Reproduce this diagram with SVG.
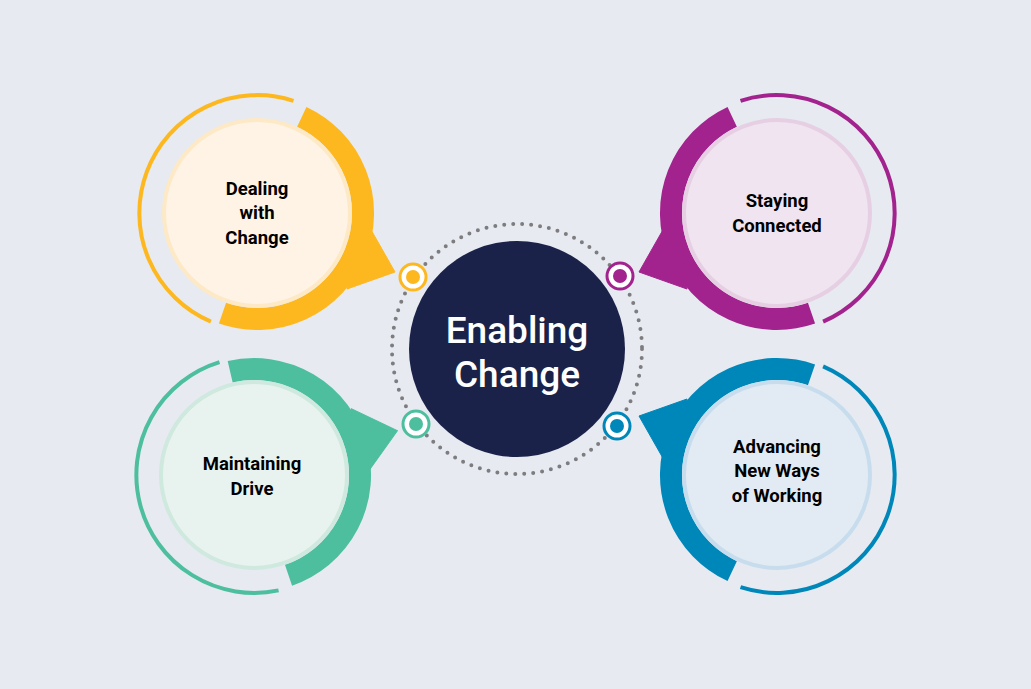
<svg xmlns="http://www.w3.org/2000/svg" width="1031" height="689" viewBox="0 0 1031 689">
<style>
.thick{fill:none;stroke-width:22}
.thin{fill:none;stroke-width:4}
.lbl{font-family:Roboto,"Liberation Sans",sans-serif;font-weight:700;font-size:18.5px;fill:#000;text-anchor:middle}
.ctr{font-family:Roboto,"Liberation Sans",sans-serif;font-weight:500;font-size:37px;fill:#fff;text-anchor:middle}
</style>
<defs>
<g id="shape">
<path class="thick" d="M44.8,-96.1 A106,106 0 0 1 -34.5,100.2"/>
<polygon points="113,15 138,59 90,76 95,30"/>
<path class="thin" d="M36.5,-112.2 A118,118 0 0 0 -46.1,108.6"/>
</g>
</defs>
<rect width="1031" height="689" fill="#e7eaf1"/>
<g id="connectors">
<circle cx="517" cy="349" r="125" fill="none" stroke="#7d7d80" stroke-width="4" stroke-linecap="round" stroke-dasharray="0 9"/>
</g>
<g id="center">
<circle cx="517" cy="349" r="108" fill="#1b2249"/>
<text class="ctr" x="517" y="343">Enabling</text>
<text class="ctr" x="517" y="387">Change</text>
</g>
<g id="dealing">
<g transform="translate(257,213)" fill="#fdb820" stroke="#fdb820"><use href="#shape"/></g>
<circle cx="257" cy="213" r="93" fill="#fef3e4" stroke="#fde9c6" stroke-width="4"/>
<text class="lbl" x="257" y="195">Dealing</text>
<text class="lbl" x="257" y="219">with</text>
<text class="lbl" x="257" y="244">Change</text>
<circle cx="413" cy="277" r="13" fill="#fff" stroke="#fdb820" stroke-width="3"/>
<circle cx="413" cy="277" r="7" fill="#fdb820"/>
</g>
<g id="staying">
<g transform="translate(777,213) scale(-1,1)" fill="#a3238e" stroke="#a3238e"><use href="#shape"/></g>
<circle cx="777" cy="213" r="93" fill="#f0e4f0" stroke="#e6cfe3" stroke-width="4"/>
<text class="lbl" x="777" y="207">Staying</text>
<text class="lbl" x="777" y="232">Connected</text>
<circle cx="620" cy="276" r="13" fill="#fff" stroke="#a3238e" stroke-width="3"/>
<circle cx="620" cy="276" r="7" fill="#a3238e"/>
</g>
<g id="maintaining">
<g transform="translate(254,475) scale(1,-1) rotate(-6)" fill="#4dbf9f" stroke="#4dbf9f"><use href="#shape"/></g>
<circle cx="254" cy="475" r="93" fill="#e8f3ef" stroke="#cfe9df" stroke-width="4"/>
<text class="lbl" x="252" y="470">Maintaining</text>
<text class="lbl" x="252" y="495">Drive</text>
<circle cx="416" cy="424" r="13" fill="#fff" stroke="#4dbf9f" stroke-width="3"/>
<circle cx="416" cy="424" r="7" fill="#4dbf9f"/>
</g>
<g id="advancing">
<g transform="translate(777,475) rotate(180)" fill="#0087b9" stroke="#0087b9"><use href="#shape"/></g>
<circle cx="777" cy="475" r="93" fill="#e2ebf3" stroke="#c7dded" stroke-width="4"/>
<text class="lbl" x="777" y="453">Advancing</text>
<text class="lbl" x="777" y="477">New Ways</text>
<text class="lbl" x="777" y="502">of Working</text>
<circle cx="617" cy="426" r="13" fill="#fff" stroke="#0087b9" stroke-width="3"/>
<circle cx="617" cy="426" r="7" fill="#0087b9"/>
</g>
</svg>
